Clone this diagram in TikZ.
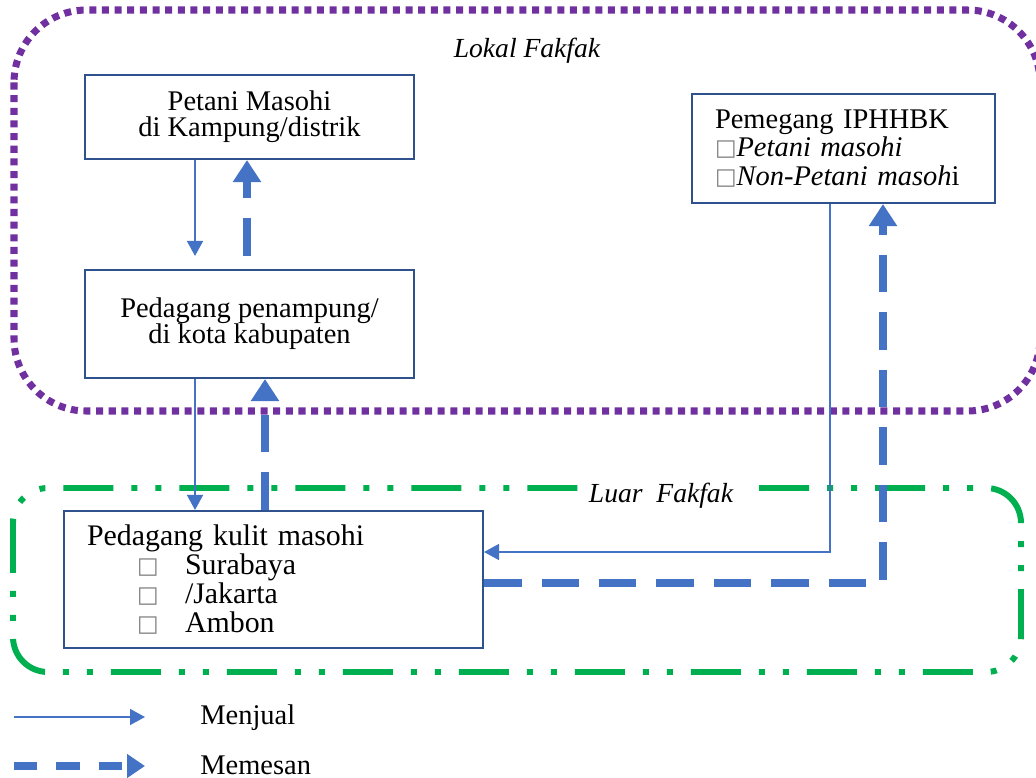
\documentclass[tikz,border=0pt]{standalone}
\usepackage{fontspec}
\setmainfont{Liberation Serif}
\newfontfamily\sqfont{DejaVu Sans}
\usetikzlibrary{arrows.meta,calc}
\definecolor{boxblue}{RGB}{47,82,143}
\definecolor{linkblue}{RGB}{68,114,196}
\definecolor{lokalpurple}{RGB}{112,48,160}
\definecolor{luargreen}{RGB}{0,176,80}
\newcommand{\chk}{\raisebox{0.5pt}{\sqfont\fontsize{13}{13}\selectfont\textcolor{gray}{□}}}

\begin{document}
\begin{tikzpicture}[x=0.02cm, y=-0.02cm,
	every node/.style={font=\fontsize{16.2}{14.8}\selectfont},
	actor/.style={draw=boxblue, line width=1.2pt, fill=white, align=center, inner sep=0pt},
	sell/.style={draw=linkblue, line width=0.85pt, -{Triangle[width=0.32cm,length=0.3cm]}},
	order/.style={draw=linkblue, line width=4.5pt, dash pattern=on 0.75cm off 0.4cm, -{Triangle[width=0.54cm,length=0.44cm]}},
	region/.style={font=\fontsize{15.7}{18}\selectfont\itshape}]
	\clip (0,0) rectangle (1036,778);
	% wilayah
	\draw[lokalpurple, line width=4pt, dash pattern=on 4pt off 3.2pt, rounded corners=1.45cm] (14,10) rectangle (1040,411);
	\draw[luargreen, line width=3.4pt, dash pattern=on 1cm off 0.36cm on 0.12cm off 0.36cm on 0.12cm off 0.36cm, rounded corners=0.7cm] (13,488) rectangle (1021,672);
	\node[region] (lokal) at (527,51) {Lokal Fakfak};
	\node[region, fill=white, inner xsep=6pt] (luar) at (661,496) {Luar\ \ Fakfak};
	% pelaku
	\node[actor, minimum width=6.58cm, minimum height=1.68cm] (petani) at (249.5,117) {Petani Masohi\\di Kampung/distrik};
	\node[actor, minimum width=6.58cm, minimum height=2.16cm] (penampung) at (249.5,324) {Pedagang penampung/\\di kota kabupaten};
	\node[actor, minimum width=6.06cm, minimum height=2.18cm, align=left, text width=5.14cm, font=\fontsize{16.2}{16.4}\selectfont] (iphhbk) at (843.5,148.5) {Pemegang IPHHBK\\\chk\textit{Petani masohi}\\\chk\textit{Non-Petani masoh}i};
	\node[actor, minimum width=8.38cm, minimum height=2.74cm, align=left, text width=7.46cm, font=\fontsize{17}{16.4}\selectfont] (kulit) at (273.5,579.5) {Pedagang kulit masohi\\\hspace*{1cm}\makebox[0.96cm][l]{\chk}Surabaya\\\hspace*{1cm}\makebox[0.96cm][l]{\chk}/Jakarta\\\hspace*{1cm}\makebox[0.96cm][l]{\chk}Ambon};
	% alur
	\draw[sell] ([xshift=-1.09cm]petani.south) -- ([xshift=-1.09cm,yshift=0.26cm]penampung.north);
	\draw[order] ([xshift=-0.05cm,yshift=0.26cm]penampung.north) -- ([xshift=-0.05cm]petani.south);
	\draw[sell] ([xshift=-1.09cm]penampung.south) -- ([xshift=-1.09cm]penampung.south |- kulit.north);
	\draw[order] ([xshift=0.31cm]penampung.south |- kulit.north) -- ([xshift=0.31cm]penampung.south);
	\draw[sell] ([xshift=-0.27cm]iphhbk.south) |- ([yshift=0.55cm]kulit.east);
	\draw[order] ([yshift=-0.07cm]kulit.east) -| ([xshift=0.79cm]iphhbk.south);
	% keterangan
	\coordinate (sellA) at (14,717);
	\coordinate (sellB) at (145,717);
	\coordinate (orderA) at (14,766);
	\coordinate (orderB) at (145,766);
	\draw[sell] (sellA) -- (sellB);
	\draw[order, dash pattern=on 0.47cm off 0.38cm, -{Triangle[width=0.46cm,length=0.36cm]}] (orderA) -- (orderB);
	\node[anchor=west, inner sep=0pt] (selltxt) at (200,718) {Menjual};
	\node[anchor=west, inner sep=0pt] (ordertxt) at (200,765) {Memesan};
\end{tikzpicture}
\end{document}
